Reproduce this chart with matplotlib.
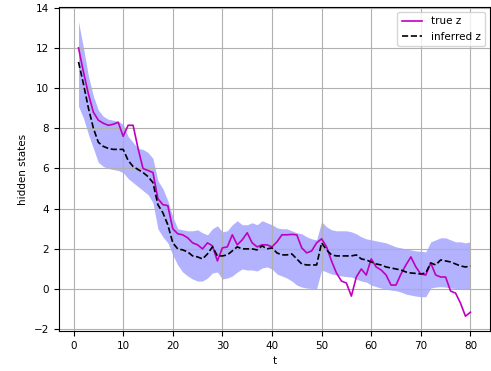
import numpy as np
import matplotlib
matplotlib.use("Agg")
import matplotlib.pyplot as plt

t = list(range(1, 81))

true_z = [12.0, 10.8, 9.7, 8.8, 8.4, 8.25, 8.15, 8.2, 8.3, 7.6,
          8.15, 8.15, 7.0, 6.0, 5.9, 5.8, 4.5, 4.2, 4.15, 3.0,
          2.75, 2.7, 2.55, 2.3, 2.2, 2.0, 2.3, 2.15, 1.4, 2.05,
          2.1, 2.7, 2.2, 2.45, 2.8, 2.3, 2.1, 2.2, 2.2, 2.1,
          2.35, 2.7, 2.7, 2.72, 2.7, 2.05, 1.8, 1.9, 2.3, 2.5,
          2.1, 1.4, 0.8, 0.4, 0.3, -0.35, 0.6, 1.0, 0.7, 1.5,
          1.1, 0.95, 0.7, 0.2, 0.2, 0.75, 1.2, 1.6, 1.1, 0.75,
          0.7, 1.3, 0.7, 0.6, 0.6, -0.1, -0.2, -0.7, -1.35, -1.15]

inferred_z = [11.3, 10.2, 9.0, 8.0, 7.3, 7.1, 7.0, 6.95, 6.95, 6.95,
              6.4, 6.1, 5.95, 5.8, 5.6, 5.3, 4.2, 3.8, 3.2, 2.3,
              2.0, 1.95, 1.85, 1.65, 1.6, 1.5, 1.75, 2.1, 1.65, 1.65,
              1.7, 1.9, 2.1, 2.0, 2.0, 2.0, 1.95, 2.15, 2.0, 2.05,
              1.8, 1.7, 1.7, 1.75, 1.5, 1.25, 1.2, 1.2, 1.2, 2.3,
              1.95, 1.7, 1.65, 1.65, 1.65, 1.65, 1.7, 1.5, 1.45, 1.35,
              1.25, 1.2, 1.1, 1.05, 1.0, 0.95, 0.85, 0.8, 0.78, 0.75,
              0.8, 1.3, 1.2, 1.45, 1.4, 1.35, 1.25, 1.15, 1.1, 1.15]

upper = [13.3, 12.0, 10.6, 9.6, 8.9, 8.6, 8.45, 8.4, 8.35, 8.2,
         7.6, 7.3, 7.0, 6.95, 6.8, 6.5, 5.4, 5.0, 4.4, 3.6,
         3.0, 2.95, 2.9, 2.9, 2.95, 2.8, 2.7, 3.0, 3.15, 2.85,
         2.9, 3.2, 3.4, 3.2, 3.2, 3.3, 3.2, 3.4, 3.3, 3.2,
         3.05, 3.0, 3.0, 2.9, 2.8, 2.75, 2.6, 2.5, 2.45, 3.35,
         3.1, 2.95, 2.9, 2.9, 2.9, 2.85, 2.75, 2.6, 2.5, 2.45,
         2.4, 2.35, 2.3, 2.2, 2.1, 2.05, 2.0, 1.95, 1.9, 1.88,
         1.85, 2.35, 2.45, 2.55, 2.55, 2.45, 2.35, 2.35, 2.3, 2.35]

lower = [9.1, 8.5, 7.7, 7.0, 6.3, 6.1, 6.0, 5.95, 5.9, 5.8,
         5.5, 5.3, 5.1, 4.9, 4.7, 4.3, 3.0, 2.6, 2.3, 1.7,
         1.2, 0.85, 0.65, 0.5, 0.4, 0.4, 0.55, 0.8, 0.85, 0.5,
         0.55, 0.65, 0.85, 1.0, 0.95, 0.95, 0.9, 1.05, 1.1, 1.0,
         0.75, 0.65, 0.55, 0.4, 0.2, 0.1, 0.05, 0.03, 0.03, 0.95,
         0.85, 0.75, 0.7, 0.65, 0.62, 0.6, 0.5, 0.4, 0.35, 0.2,
         0.12, 0.05, 0.0, -0.05, -0.08, -0.15, -0.25, -0.3, -0.35, -0.38,
         -0.38, 0.05, 0.1, 0.12, 0.1, 0.05, 0.03, 0.0, 0.02, 0.03]

plt.rcParams['font.size'] = 7.5

fig = plt.figure(figsize=(4.91, 3.71), dpi=100)
ax = fig.add_axes([0.120, 0.108, 0.878, 0.873])

ax.fill_between(t, lower, upper, color='b', alpha=0.3, linewidth=0)
ax.plot(t, true_z, color='m', linewidth=1.2, label='true z')
ax.plot(t, inferred_z, 'k--', linewidth=1.2, label='inferred z')

ax.set_xlabel('t')
ax.set_ylabel('hidden states')
ax.set_xticks([0, 10, 20, 30, 40, 50, 60, 70, 80])
ax.set_yticks([-2, 0, 2, 4, 6, 8, 10, 12, 14])
ax.grid(True)
ax.legend(loc='upper right')

fig.savefig('out.png', dpi=100)
